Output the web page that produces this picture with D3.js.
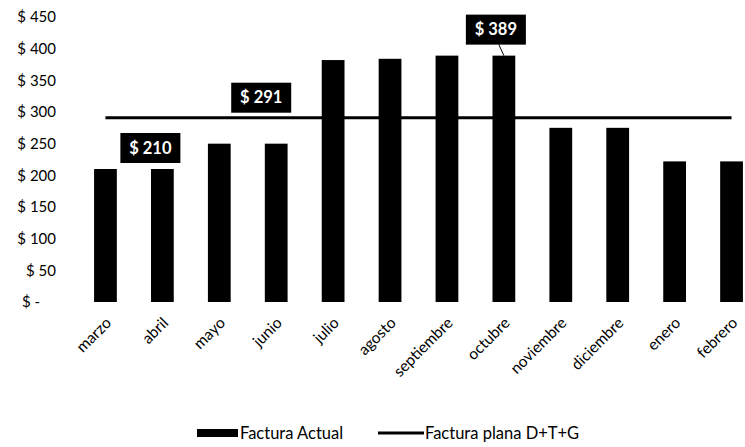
<!DOCTYPE html>
<html><head><meta charset="utf-8">
<script src="https://cdn.jsdelivr.net/npm/d3@7"></script>
<style>body{margin:0;background:#fff}svg{display:block}text{font-family:Lato,"Open Sans",sans-serif}</style>
</head><body><svg id="c" width="745" height="447"></svg>
<script>
const categories = ["marzo","abril","mayo","junio","julio","agosto","septiembre","octubre","noviembre","diciembre","enero","febrero"];
const facturaActual = [210,210,250,250,382,384,389,389,275,275,222,222];
const facturaPlana = [291,291,291,291,291,291,291,291,291,291,291,291];
const yTicks = [0,50,100,150,200,250,300,350,400,450];
const seriesNames = ["Factura Actual","Factura plana D+T+G"];

const svg = d3.select("#c");
const x = d3.scaleBand().domain(categories).range([77, 760]).paddingInner(0.6).paddingOuter(0.3);
const y = d3.scaleLinear().domain([0,450]).range([302,17]);
const cx = d => x(d) + x.bandwidth()/2;

// y axis labels
const yAxis = d3.axisLeft(y).tickValues(yTicks).tickSize(0).tickPadding(0)
  .tickFormat(v => v === 0 ? "$ -" : "$ " + v);
const gy = svg.append("g").attr("transform","translate(56,0)").call(yAxis);
gy.select(".domain").remove();
gy.selectAll("text").attr("font-size",15).attr("fill","#000")
  .attr("font-family","Lato,'Open Sans',sans-serif")
  .attr("dx", d => d === 0 ? -16 : 0);

// bars
svg.append("g").selectAll("rect").data(categories).join("rect")
  .attr("x", d => x(d)).attr("width", x.bandwidth())
  .attr("y", (d,i) => y(facturaActual[i]))
  .attr("height", (d,i) => y(0) - y(facturaActual[i]))
  .attr("fill","#000");

// line
const line = d3.line().x((d,i) => cx(categories[i])).y(d => y(d));
svg.append("path").datum(facturaPlana).attr("d", line)
  .attr("fill","none").attr("stroke","#000").attr("stroke-width",3);

// x axis labels
const xAxis = d3.axisBottom(x).tickSize(0).tickPadding(0);
const gx = svg.append("g").attr("transform", `translate(3,${y(0)+18})`).call(xAxis);
gx.select(".domain").remove();
gx.selectAll("text").attr("font-size",15.5).attr("fill","#000")
  .attr("font-family","Lato,'Open Sans',sans-serif")
  .attr("text-anchor","end").attr("dy","0.35em").attr("y",0)
  .attr("transform","rotate(-45)");

// data labels
function dataLabel(cxp, cyp, txt){
  const g = svg.append("g");
  g.append("rect").attr("x", cxp-30).attr("y", cyp-15).attr("width",60).attr("height",30).attr("fill","#000");
  g.append("text").attr("x",cxp).attr("y",cyp).attr("dy","0.35em").attr("text-anchor","middle")
    .attr("fill","#fff").attr("font-weight","bold").attr("font-size",16.5).text(txt);
}
dataLabel(cx("abril")-12, y(facturaActual[1]) - 21, "$ " + facturaActual[1]);
dataLabel(cx("junio")-15, y(facturaPlana[3]) - 20, "$ " + facturaPlana[3]);
const octY = y(facturaActual[7]);
dataLabel(cx("octubre")-8, octY - 26, "$ " + facturaActual[7]);
svg.append("line").attr("x1", cx("octubre")-5).attr("y1", octY-11)
  .attr("x2", cx("octubre")).attr("y2", octY).attr("stroke","#000").attr("stroke-width",1);

// legend
const lg = svg.append("g");
lg.append("rect").attr("x",197).attr("y",429).attr("width",41).attr("height",8).attr("fill","#000");
lg.append("text").attr("x",240).attr("y",433).attr("dy","0.35em").attr("font-size",16.5).text(seriesNames[0]);
lg.append("line").attr("x1",378).attr("x2",424).attr("y1",433).attr("y2",433).attr("stroke","#000").attr("stroke-width",3);
lg.append("text").attr("x",425).attr("y",433).attr("dy","0.35em").attr("font-size",16.5).text(seriesNames[1]);
</script></body></html>
